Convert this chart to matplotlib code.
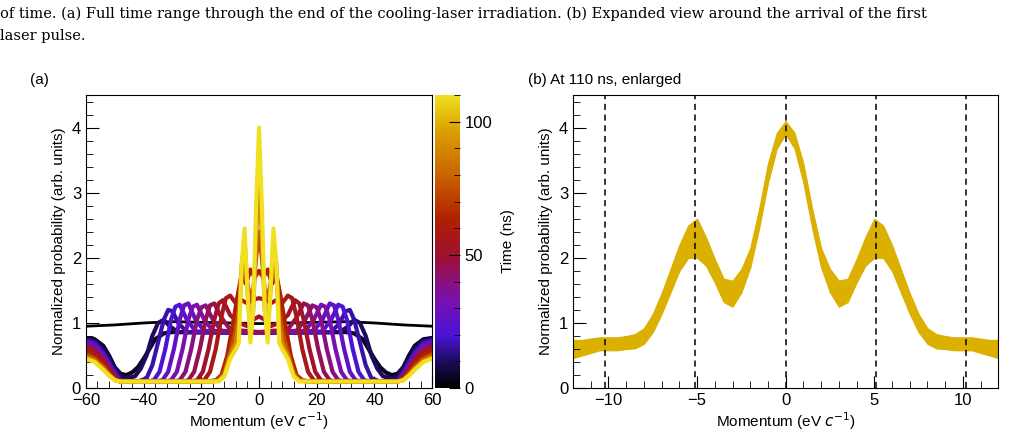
import numpy as np
import matplotlib
matplotlib.use("Agg")
import matplotlib.pyplot as plt
from matplotlib.colors import LinearSegmentedColormap, Normalize
from matplotlib.cm import ScalarMappable
from matplotlib.ticker import MultipleLocator

plt.rcParams['font.family'] = ['Liberation Sans', 'DejaVu Sans']

# ---- data: panel (a), right half (mirrored), key points ----
times = [0, 4, 10, 16, 21, 27, 33, 39, 45, 51, 57, 64, 75, 90, 110]
tail_x = [48, 50, 52, 54, 57, 60]
curves_x = [
    [0, 10, 20, 30, 40, 50, 60],
    [0, 30, 33, 36, 38, 40, 42, 44, 46, 48, 50, 52, 54, 57, 60],
    [0, 28, 31, 33, 35, 37, 39, 41, 43, 46, 48, 50, 52, 54, 57, 60],
    [0, 25, 28, 30, 31.5, 33, 35, 37, 39, 42, 48, 50, 52, 54, 57, 60],
    [0, 22, 25, 27.5, 29, 30.5, 32.5, 34.5, 36.5, 39, 48, 50, 52, 54, 57, 60],
    [0, 19, 22, 24.5, 26, 27.5, 29.5, 31.5, 33.5, 36, 48, 50, 52, 54, 57, 60],
    [0, 16, 19, 21.5, 23, 24.5, 26.5, 28.5, 30.5, 33, 48, 50, 52, 54, 57, 60],
    [0, 13, 16, 18.5, 20, 21.5, 23.5, 25.5, 27.5, 30, 48, 50, 52, 54, 57, 60],
    [0, 10, 13, 15.5, 17, 18.5, 20.5, 22.5, 24.5, 27, 48, 50, 52, 54, 57, 60],
    [0, 2, 4, 7, 10, 12.5, 14, 15.5, 17.5, 19.5, 21.5, 24, 48, 50, 52, 54, 57, 60],
    [0, 2, 4, 6, 8, 10, 11.5, 13, 15, 17, 19, 21, 48, 50, 52, 54, 57, 60],
    [0, 1.5, 3, 4.5, 6, 7.5, 9, 11, 13, 15, 18, 48, 50, 52, 54, 57, 60],
    [0, 1, 2, 3, 4, 5, 6, 7, 8, 10, 12, 14, 17, 48, 50, 52, 54, 57, 60],
    [0, 1, 2, 3, 4, 5, 6, 7, 8, 10, 12, 14, 17, 48, 50, 52, 54, 57, 60],
    [0, 1, 2, 3, 4, 5, 6, 7, 8, 10, 12, 14, 17, 48, 50, 52, 54, 57, 60],
]
curves_y = [
    [0.99, 1.0, 1.01, 1.02, 1.0, 0.97, 0.95],
    [0.85, 0.86, 0.84, 0.75, 0.6, 0.45, 0.32, 0.24, 0.2, 0.22, 0.32, 0.5, 0.65, 0.75, 0.77],
    [0.85, 0.86, 0.95, 1.05, 1.0, 0.8, 0.5, 0.3, 0.18, 0.15, 0.18, 0.3, 0.45, 0.6, 0.72, 0.75],
    [0.85, 0.86, 1.0, 1.18, 1.2, 1.05, 0.7, 0.35, 0.15, 0.1, 0.12, 0.25, 0.4, 0.55, 0.7, 0.74],
    [0.85, 0.87, 1.05, 1.28, 1.25, 1.05, 0.6, 0.25, 0.12, 0.1, 0.1, 0.22, 0.37, 0.52, 0.67, 0.72],
    [0.85, 0.88, 1.05, 1.3, 1.27, 1.05, 0.6, 0.25, 0.12, 0.1, 0.1, 0.2, 0.35, 0.5, 0.65, 0.7],
    [0.85, 0.88, 1.05, 1.28, 1.25, 1.05, 0.6, 0.25, 0.12, 0.1, 0.1, 0.19, 0.33, 0.48, 0.62, 0.68],
    [0.85, 0.88, 1.05, 1.27, 1.24, 1.05, 0.6, 0.25, 0.12, 0.1, 0.1, 0.18, 0.31, 0.46, 0.6, 0.66],
    [0.86, 0.9, 1.08, 1.3, 1.27, 1.05, 0.6, 0.25, 0.12, 0.1, 0.1, 0.17, 0.3, 0.44, 0.58, 0.64],
    [1.1, 1.05, 0.95, 1.0, 1.12, 1.35, 1.3, 1.05, 0.6, 0.25, 0.12, 0.1, 0.1, 0.16, 0.28, 0.42, 0.56, 0.62],
    [1.38, 1.36, 1.3, 1.35, 1.3, 1.42, 1.38, 1.1, 0.6, 0.25, 0.12, 0.1, 0.1, 0.15, 0.26, 0.4, 0.53, 0.6],
    [1.8, 1.7, 1.82, 1.6, 1.75, 1.4, 1.0, 0.5, 0.2, 0.12, 0.1, 0.1, 0.14, 0.24, 0.36, 0.5, 0.56],
    [2.4, 2.0, 1.5, 1.4, 1.6, 1.9, 1.7, 1.2, 0.9, 0.55, 0.25, 0.12, 0.1, 0.1, 0.13, 0.22, 0.33, 0.45, 0.52],
    [3.3, 2.3, 1.2, 0.9, 1.5, 2.25, 1.9, 1.0, 0.7, 0.5, 0.2, 0.12, 0.1, 0.1, 0.12, 0.2, 0.3, 0.42, 0.48],
    [4.0, 2.8, 1.2, 0.7, 1.5, 2.45, 1.9, 0.7, 0.6, 0.45, 0.18, 0.1, 0.1, 0.1, 0.12, 0.19, 0.28, 0.4, 0.45],
]

# ---- data: panel (b), right half (mirrored): centre and half-width of band ----
b_x = [0, 0.5, 1, 1.5, 2, 2.5, 3, 3.5, 4, 4.5, 5, 5.5, 6, 6.5, 7, 7.5, 8,
       8.5, 9, 9.5, 10, 10.5, 11, 11.5, 12]
b_mid = [4.0, 3.8, 3.3, 2.6, 2.0, 1.65, 1.45, 1.5, 1.8, 2.1, 2.3, 2.25, 2.0,
         1.65, 1.3, 1.0, 0.8, 0.72, 0.7, 0.68, 0.68, 0.68, 0.65, 0.62, 0.6]
b_half = [0.1, 0.12, 0.15, 0.15, 0.15, 0.18, 0.2, 0.18, 0.18, 0.22, 0.3, 0.25,
          0.2, 0.18, 0.16, 0.14, 0.12, 0.11, 0.1, 0.1, 0.1, 0.1, 0.11, 0.12, 0.14]
b_lines = [-10.2, -5.1, 0, 5.1, 10.2]

cmap = LinearSegmentedColormap.from_list("t", [
    (0.0, "#000000"), (0.08, "#1a0a50"), (0.18, "#4a14d8"), (0.3, "#7a10b0"),
    (0.45, "#a01030"), (0.58, "#b02000"), (0.72, "#c86000"), (0.88, "#dca000"),
    (1.0, "#f0e020")])
norm = Normalize(0, 110)

fig = plt.figure(figsize=(10.27, 4.4), dpi=100)
fig.text(0.0, 0.985, "of time. (a) Full time range through the end of the cooling-laser irradiation. (b) Expanded view around the arrival of the first",
         family='DejaVu Serif', fontsize=10.5, va='top')
fig.text(0.0, 0.935, "laser pulse.", family='DejaVu Serif', fontsize=10.5, va='top')

def style(ax):
    ax.tick_params(direction='in', which='both', top=False, right=False, labelsize=12)
    ax.tick_params(which='major', length=9)
    ax.tick_params(which='minor', length=5)
    ax.yaxis.set_major_locator(MultipleLocator(1))
    ax.yaxis.set_minor_locator(MultipleLocator(0.2))
    ax.set_ylim(0, 4.5)

ax = fig.add_axes([0.0837, 0.118, 0.337, 0.666])
for t, xs, ys in zip(times, curves_x, curves_y):
    xs = np.array(xs, float); ys = np.array(ys, float)
    X = np.concatenate([-xs[::-1], xs[1:]])
    Y = np.concatenate([ys[::-1], ys[1:]])
    ax.plot(X, Y, color=cmap(norm(t)), lw=2.0 if t == 0 else 3.0, solid_joinstyle='round')
ax.set_xlim(-60, 60)
ax.xaxis.set_major_locator(MultipleLocator(20))
ax.xaxis.set_minor_locator(MultipleLocator(4))
style(ax)
ax.set_xlabel("Momentum (eV $c^{-1}$)", fontsize=11, labelpad=2)
ax.set_ylabel("Normalized probability (arb. units)", fontsize=11)
fig.text(0.029, 0.81, "(a)", fontsize=11)

cax = fig.add_axes([0.4236, 0.118, 0.024, 0.666])
cb = fig.colorbar(ScalarMappable(norm=norm, cmap=cmap), cax=cax)
cb.outline.set_visible(False)
cb.set_ticks([0, 50, 100])
cax.yaxis.set_minor_locator(MultipleLocator(10))
cax.tick_params(direction='in', which='both', labelsize=12, color='k')
cax.tick_params(which='major', length=8); cax.tick_params(which='minor', length=4)
cb.set_label("Time (ns)", fontsize=11, labelpad=6)

bx = fig.add_axes([0.558, 0.118, 0.414, 0.666])
bxa = np.array(b_x); mid = np.array(b_mid); hw = np.array(b_half)
X = np.concatenate([-bxa[::-1], bxa[1:]])
M = np.concatenate([mid[::-1], mid[1:]])
H = np.concatenate([hw[::-1], hw[1:]])
bx.fill_between(X, M - H, M + H, color="#dcb000", lw=0.8, edgecolor="#dcb000")
for v in b_lines:
    bx.axvline(v, color='k', ls='--', lw=1.1, dashes=(4, 3))
bx.set_xlim(-12, 12)
bx.xaxis.set_major_locator(MultipleLocator(5))
bx.xaxis.set_minor_locator(MultipleLocator(1))
style(bx)
bx.set_xlabel("Momentum (eV $c^{-1}$)", fontsize=11, labelpad=2)
bx.set_ylabel("Normalized probability (arb. units)", fontsize=11)
fig.text(0.514, 0.81, "(b) At 110 ns, enlarged", fontsize=11)

fig.savefig("out.png", dpi=100)
